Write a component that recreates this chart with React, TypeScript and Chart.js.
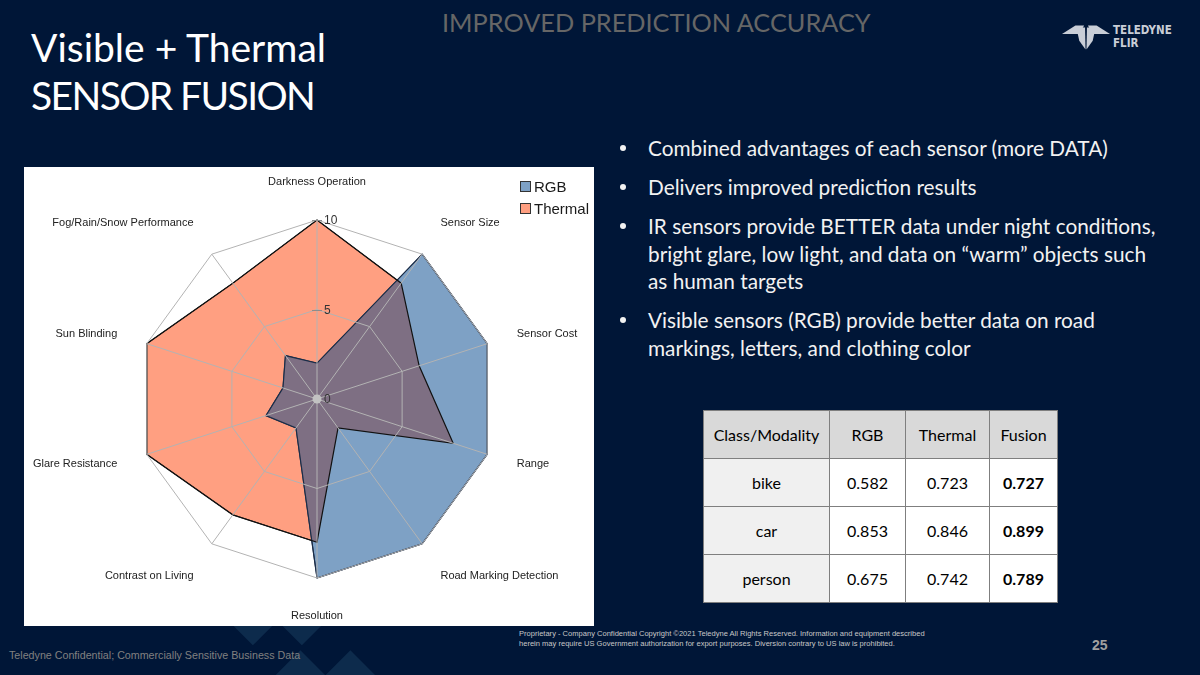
import React, { useEffect, useRef } from "react";
import { Chart, registerables } from "chart.js";

Chart.register(...registerables);

// ---------- data ----------
const categories = [
  "Darkness Operation",
  "Sensor Size",
  "Sensor Cost",
  "Range",
  "Road Marking Detection",
  "Resolution",
  "Contrast on Living",
  "Glare Resistance",
  "Sun Blinding",
  "Fog/Rain/Snow Performance",
];
const rgbValues = [2, 10, 10, 10, 10, 10, 2, 3, 2, 3];
const thermalValues = [10, 8, 6, 8, 2, 8, 8, 10, 10, 8];
const radialTicks = [0, 5, 10];
const seriesNames = ["RGB", "Thermal"];

const tableHeader = ["Class/Modality", "RGB", "Thermal", "Fusion"];
const tableClasses = ["bike", "car", "person"];
const tableRGB = ["0.582", "0.853", "0.675"];
const tableThermal = ["0.723", "0.846", "0.742"];
const tableFusion = ["0.727", "0.899", "0.789"];

const bullets: string[][] = [
  ["Combined advantages of each sensor (more DATA)"],
  ["Delivers improved prediction results"],
  [
    "IR sensors provide BETTER data under night conditions,",
    "bright glare, low light, and data on \u201cwarm\u201d objects such",
    "as human targets",
  ],
  [
    "Visible sensors (RGB) provide better data on road",
    "markings, letters, and clothing color",
  ],
];

// ---------- styles ----------
const BG = "#001637";
const BLUE = "#7ea1c5";
const ORANGE = "#ff9f81";
const OVERLAP = "#7e6f83";
const RGB_BORDER = "#1b2d48";
const THERMAL_BORDER = "#111111";
const GRID = "#b3b3b3";
const LABEL_FAMILY = '"Liberation Sans", Arial, sans-serif';

// layout of the radial scale inside the canvas
const SCALE_CX = 293;
const SCALE_CY = 232;
const SCALE_R = 179;

const overlapPlugin = {
  id: "overlapFill",
  afterDatasetsDraw(chart: any) {
    const ctx = chart.ctx;
    const a = chart.getDatasetMeta(0).data;
    const b = chart.getDatasetMeta(1).data;
    const path = (pts: any[]) => {
      ctx.beginPath();
      pts.forEach((p: any, i: number) =>
        i ? ctx.lineTo(p.x, p.y) : ctx.moveTo(p.x, p.y)
      );
      ctx.closePath();
    };
    ctx.save();
    path(a);
    ctx.clip();
    path(b);
    ctx.fillStyle = OVERLAP;
    ctx.fill();
    ctx.restore();
    ctx.save();
    ctx.lineWidth = 1.2;
    ctx.lineJoin = "miter";
    path(a);
    ctx.strokeStyle = RGB_BORDER;
    ctx.stroke();
    path(b);
    ctx.strokeStyle = THERMAL_BORDER;
    ctx.stroke();
    ctx.restore();
  },
};

const tickPlugin = {
  id: "radialTickLabels",
  afterDraw(chart: any) {
    const s = chart.scales.r;
    const ctx = chart.ctx;
    ctx.save();
    ctx.fillStyle = "#c2c2c2";
    ctx.beginPath();
    ctx.arc(s.xCenter, s.yCenter, 4.5, 0, Math.PI * 2);
    ctx.fill();
    ctx.font = "12px " + LABEL_FAMILY;
    ctx.textAlign = "left";
    ctx.textBaseline = "middle";
    ctx.strokeStyle = "#8c8c8c";
    ctx.lineWidth = 1;
    radialTicks.forEach((v) => {
      const d = s.getDistanceFromCenterForValue(v);
      const y = Math.round(s.yCenter - d) + 0.5;
      if (v > 0) {
        ctx.beginPath();
        ctx.moveTo(s.xCenter - 5, y);
        ctx.lineTo(s.xCenter + 5, y);
        ctx.stroke();
      }
      ctx.fillStyle = "#333333";
      ctx.fillText(String(v), s.xCenter + 7, y);
    });
    ctx.restore();
  },
};

function RadarChart() {
  const ref = useRef<HTMLCanvasElement>(null);
  useEffect(() => {
    if (!ref.current) return;
    const n = categories.length;
    const chart = new Chart(ref.current, {
      type: "radar",
      data: {
        labels: categories,
        datasets: [
          {
            label: seriesNames[0],
            data: rgbValues,
            backgroundColor: BLUE,
            borderColor: RGB_BORDER,
            borderWidth: 1,
            pointRadius: 0,
            fill: true,
          },
          {
            label: seriesNames[1],
            data: thermalValues,
            backgroundColor: ORANGE,
            borderColor: THERMAL_BORDER,
            borderWidth: 1,
            pointRadius: 0,
            fill: true,
          },
        ],
      },
      options: {
        responsive: false,
        animation: false,
        devicePixelRatio: 1,
        layout: { padding: 0 },
        elements: { line: { tension: 0 } },
        plugins: {
          legend: { display: false },
          tooltip: { enabled: false },
        },
        scales: {
          r: {
            min: 0,
            max: 10,
            beginAtZero: true,
            ticks: { stepSize: 5, display: false },
            grid: { color: GRID, lineWidth: 1, z: 1 },
            angleLines: { color: GRID, lineWidth: 1 },
            pointLabels: {
              color: "#222222",
              padding: 31,
              font: (c: any) => {
                const ang = (c.index * 2 * Math.PI) / n;
                const side = Math.abs(Math.sin(ang)) > 0.9;
                return {
                  family: LABEL_FAMILY,
                  size: 11,
                  lineHeight: side ? 0.1 : 1.2,
                };
              },
            },
            beforeFit: (scale: any) => {
              scale.xCenter = scale.left + SCALE_CX;
              scale.yCenter = scale.top + SCALE_CY;
              scale.drawingArea = SCALE_R;
            },
          } as any,
        },
      },
      plugins: [overlapPlugin, tickPlugin],
    } as any);
    return () => chart.destroy();
  }, []);
  return (
    <canvas
      ref={ref}
      width={570}
      height={459}
      style={{ display: "block", width: 570, height: 459 }}
    />
  );
}

const abs = (o: React.CSSProperties): React.CSSProperties => ({
  position: "absolute",
  ...o,
});

function Diamond({ cx, cy, h }: { cx: number; cy: number; h: number }) {
  const s = h * Math.SQRT2;
  return (
    <div
      style={abs({
        left: cx - s / 2,
        top: cy - s / 2,
        width: s,
        height: s,
        background: "#0d2b4c",
        transform: "rotate(45deg)",
      })}
    />
  );
}

export default function App() {
  const cellBase: React.CSSProperties = {
    border: "1px solid #7f7f7f",
    textAlign: "center",
    verticalAlign: "middle",
    padding: 0,
    color: "#000",
  };
  const colW = [126, 76, 84, 68];
  return (
    <div
      style={abs({
        left: 0,
        top: 0,
        width: 1200,
        height: 675,
        background: BG,
        overflow: "hidden",
        fontFamily: "Lato, 'Open Sans', sans-serif",
      })}
    >
      {/* decorative diamonds */}
      <Diamond cx={253} cy={600} h={45} />
      <Diamond cx={302} cy={600} h={45} />
      <Diamond cx={300} cy={700} h={50} />
      <Diamond cx={350} cy={700} h={50} />

      {/* title */}
      <div
        style={abs({
          left: 31,
          top: 23,
          color: "#ffffff",
          fontSize: 39,
          lineHeight: "48px",
          whiteSpace: "nowrap",
        })}
      >
        Visible + Thermal
        <br />
        <span style={{ letterSpacing: "-1.6px" }}>SENSOR FUSION</span>
      </div>

      {/* header */}
      <div
        style={abs({
          left: 442,
          top: 7,
          color: "#666666",
          fontSize: 25.3,
          lineHeight: "30px",
          whiteSpace: "nowrap",
        })}
      >
        IMPROVED PREDICTION ACCURACY
      </div>

      {/* logo */}
      <svg
        style={abs({ left: 1062, top: 24, width: 48, height: 26 })}
        viewBox="0 0 50 26"
      >
        <g fill="#c9ced7">
          <polygon points="0,10 14,1 23,1 18,10" />
          <polygon points="50,10 36,1 27,1 32,10" />
          <polygon points="15,3 24,3 24.5,26 18,17" />
          <polygon points="35,3 26,3 25.5,26 32,17" />
        </g>
      </svg>
      <div
        style={abs({
          left: 1113,
          top: 24,
          color: "#c9ced7",
          fontFamily: "'DejaVu Sans Condensed', 'DejaVu Sans', sans-serif",
          fontWeight: 700,
          fontSize: 11.5,
          lineHeight: "12.5px",
          whiteSpace: "nowrap",
        })}
      >
        TELEDYNE
        <br />
        FLIR
      </div>

      {/* chart box */}
      <div
        style={abs({
          left: 24,
          top: 167,
          width: 570,
          height: 459,
          background: "#ffffff",
        })}
      >
        <RadarChart />
        {/* legend */}
        {seriesNames.map((nm, i) => (
          <div
            key={nm}
            style={abs({
              left: 496,
              top: 11 + i * 22,
              height: 17,
              display: "flex",
              alignItems: "center",
              fontFamily: LABEL_FAMILY,
              fontSize: 15,
              color: "#1a1a1a",
              whiteSpace: "nowrap",
            })}
          >
            <span
              style={{
                display: "inline-block",
                width: 9,
                height: 9,
                background: i === 0 ? BLUE : ORANGE,
                border: "1px solid #333",
                marginRight: 3,
              }}
            />
            {nm}
          </div>
        ))}
      </div>

      {/* bullets */}
      <div style={abs({ left: 614, top: 134, color: "#f2f2f2" })}>
        {bullets.map((lines, i) => (
          <div
            key={i}
            style={{
              position: "relative",
              paddingLeft: 34,
              marginBottom: 11.5,
              fontSize: 20.8,
              lineHeight: "27.5px",
              whiteSpace: "nowrap",
            }}
          >
            <span
              style={abs({
                left: 6,
                top: 11,
                width: 6,
                height: 6,
                borderRadius: 3,
                background: "#f2f2f2",
              })}
            />
            {lines.map((l, j) => (
              <div key={j}>{l}</div>
            ))}
          </div>
        ))}
      </div>

      {/* table */}
      <table
        style={abs({
          left: 703,
          top: 410,
          borderCollapse: "collapse",
          tableLayout: "fixed",
          fontSize: 16,
          fontFamily: "Lato, 'Open Sans', sans-serif",
          border: "1px solid #555",
        })}
      >
        <colgroup>
          {colW.map((w, i) => (
            <col key={i} style={{ width: w }} />
          ))}
        </colgroup>
        <tbody>
          <tr style={{ height: 48 }}>
            {tableHeader.map((h) => (
              <td key={h} style={{ ...cellBase, background: "#d9d9d9" }}>
                {h}
              </td>
            ))}
          </tr>
          {tableClasses.map((c, i) => (
            <tr key={c} style={{ height: 48 }}>
              <td style={{ ...cellBase, background: "#f0f0f0" }}>{c}</td>
              <td style={{ ...cellBase, background: "#fff" }}>{tableRGB[i]}</td>
              <td style={{ ...cellBase, background: "#fff" }}>
                {tableThermal[i]}
              </td>
              <td style={{ ...cellBase, background: "#fff", fontWeight: 700 }}>
                {tableFusion[i]}
              </td>
            </tr>
          ))}
        </tbody>
      </table>

      {/* footer */}
      <div
        style={abs({
          left: 9,
          top: 648,
          color: "#808080",
          fontFamily: LABEL_FAMILY,
          fontSize: 10.7,
          lineHeight: "14px",
          whiteSpace: "nowrap",
        })}
      >
        Teledyne Confidential; Commercially Sensitive Business Data
      </div>
      <div
        style={abs({
          left: 519,
          top: 629,
          color: "#c8c8c8",
          fontFamily: LABEL_FAMILY,
          fontSize: 7.55,
          lineHeight: "10px",
          whiteSpace: "nowrap",
        })}
      >
        Proprietary - Company Confidential Copyright ©2021 Teledyne All Rights
        Reserved. Information and equipment described
        <br />
        herein may require US Government authorization for export purposes.
        Diversion contrary to US law is prohibited.
      </div>
      <div
        style={abs({
          left: 1092,
          top: 637,
          color: "#a0a0a0",
          fontFamily: LABEL_FAMILY,
          fontWeight: 700,
          fontSize: 14,
          lineHeight: "16px",
        })}
      >
        25
      </div>
    </div>
  );
}
